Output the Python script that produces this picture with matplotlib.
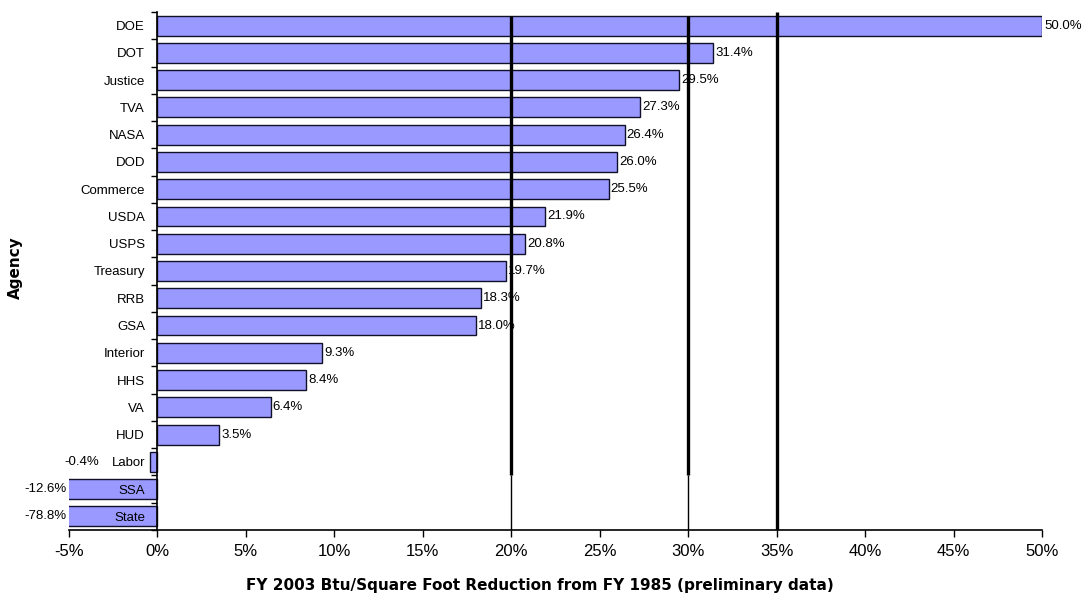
import matplotlib
matplotlib.use("Agg")
import matplotlib.pyplot as plt
import numpy as np

plt.rcParams['font.family'] = ['Liberation Sans', 'DejaVu Sans']

agencies = ["DOE", "DOT", "Justice", "TVA", "NASA", "DOD", "Commerce", "USDA", "USPS",
            "Treasury", "RRB", "GSA", "Interior", "HHS", "VA", "HUD", "Labor", "SSA", "State"]
values = [50.0, 31.4, 29.5, 27.3, 26.4, 26.0, 25.5, 21.9, 20.8,
          19.7, 18.3, 18.0, 9.3, 8.4, 6.4, 3.5, -0.4, -12.6, -78.8]
goal_lines = [20, 30, 35]
xticks = [-5, 0, 5, 10, 15, 20, 25, 30, 35, 40, 45, 50]
xlabel = "FY 2003 Btu/Square Foot Reduction from FY 1985 (preliminary data)"
ylabel = "Agency"

fig = plt.figure(figsize=(10.87, 6.02), dpi=100)
ax = fig.add_axes([0.0635, 0.1196, 0.8951, 0.8605])
xmin, xmax = -5, 50
n = len(agencies)
ypos = np.arange(n)

ax.barh(ypos, values, height=0.73, color='#9999FF', edgecolor='#10102a', linewidth=1.0, zorder=1)
ax.set_xlim(xmin, xmax)
ax.set_ylim(n - 0.5, -0.5)

# goal lines
for g in goal_lines:
    if g == 35:
        ax.plot([g, g], [n - 0.5, -0.5], color='black', lw=2.4, zorder=3, solid_capstyle='butt')
    else:
        ax.plot([g, g], [16.5, -0.35], color='black', lw=2.4, zorder=3, solid_capstyle='butt')
        ax.plot([g, g], [n - 0.5, 16.5], color='black', lw=1.0, zorder=3, solid_capstyle='butt')

# data labels
lab_fs = 9.5
for y, v in zip(ypos, values):
    txt = f"{v:.1f}%"
    if v >= 0:
        ax.annotate(txt, (v, y), xytext=(1.5, 0), textcoords='offset points',
                    ha='left', va='center', fontsize=lab_fs, zorder=4)
    elif v < xmin:
        ax.annotate(txt, (xmin, y), xytext=(-2, 0), textcoords='offset points',
                    ha='right', va='center', fontsize=lab_fs, annotation_clip=False)
    else:
        ax.annotate(txt, (0, y), xytext=(-42, 0), textcoords='offset points',
                    ha='right', va='center', fontsize=lab_fs, annotation_clip=False)

# axes styling
for s in ['top', 'right']:
    ax.spines[s].set_visible(False)
ax.spines['left'].set_position(('data', 0))
ax.spines['left'].set_linewidth(1.2)
ax.spines['bottom'].set_linewidth(1.2)

ax.set_yticks(ypos)
ax.set_yticklabels(agencies, fontsize=9.5)
ax.tick_params(axis='y', which='major', length=0, pad=9)
ax.set_yticks(np.arange(n + 1) - 0.5, minor=True)
ax.tick_params(axis='y', which='minor', length=4, direction='out', width=1)

ax.set_xticks(xticks)
ax.set_xticklabels([f"{t}%" for t in xticks], fontsize=12)
ax.tick_params(axis='x', length=5, width=1, pad=5)

fig.text(0.497, 0.028, xlabel, ha='center', va='center', fontsize=11, fontweight='bold',
         family='DejaVu Sans')
fig.text(0.014, 0.555, ylabel, ha='center', va='center', fontsize=11, fontweight='bold',
         rotation=90, family='DejaVu Sans')

fig.savefig("out.png", dpi=100)
